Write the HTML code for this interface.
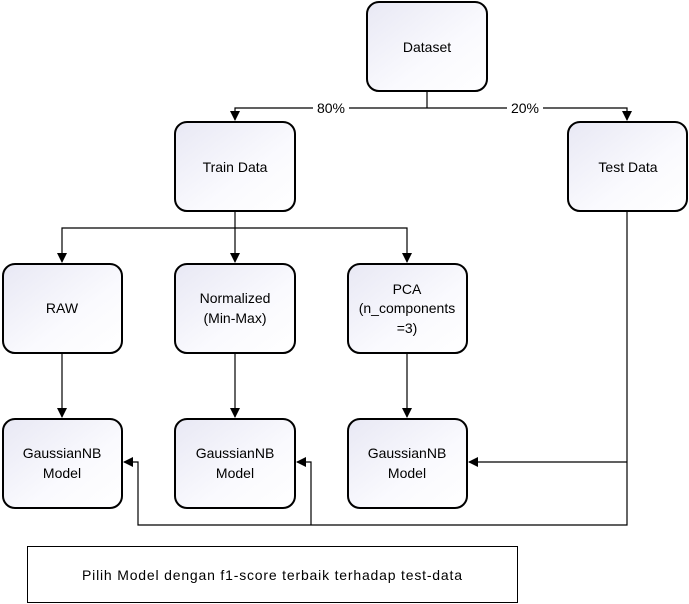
<!DOCTYPE html>
<html><head><style>
html,body{margin:0;padding:0;background:#fff;width:689px;height:604px;overflow:hidden}
text{font-family:"Liberation Sans",sans-serif;font-size:14px;fill:#000}
</style></head><body>
<svg width="689" height="604" viewBox="0 0 689 604" xmlns="http://www.w3.org/2000/svg">
<defs>
<linearGradient id="g" x1="0" y1="0" x2="1" y2="1">
<stop offset="0" stop-color="#e8e8f4"/><stop offset="0.6" stop-color="#fafafe"/><stop offset="1" stop-color="#ffffff"/>
</linearGradient>
<marker id="a" markerWidth="10" markerHeight="10" refX="9" refY="5" orient="auto" markerUnits="userSpaceOnUse">
<path d="M0,0 L10,5 L0,10 z" fill="#000"/></marker>
</defs>
<g fill="url(#g)" stroke="#000" stroke-width="2">
<rect x="367" y="2" width="120" height="89" rx="12"/>
<rect x="175" y="122" width="120" height="89" rx="12"/>
<rect x="568" y="122" width="119" height="89" rx="12"/>
<rect x="3" y="264" width="119" height="89" rx="12"/>
<rect x="175" y="264" width="120" height="89" rx="12"/>
<rect x="348" y="264" width="119" height="89" rx="12"/>
<rect x="3" y="419" width="119" height="89" rx="12"/>
<rect x="175" y="419" width="120" height="89" rx="12"/>
<rect x="348" y="419" width="119" height="89" rx="12"/>
</g>
<rect x="27.5" y="546.5" width="490" height="56" fill="#fff" stroke="#000" stroke-width="1"/>
<g stroke="#000" stroke-width="1.2" fill="none">
<path d="M427,92 V108"/>
<path d="M427,108 H235 V120" marker-end="url(#a)"/>
<path d="M427,108 H627 V120" marker-end="url(#a)"/>
<path d="M235,212 V228"/>
<path d="M235,228 H62 V262" marker-end="url(#a)"/>
<path d="M235,228 V262" marker-end="url(#a)"/>
<path d="M235,228 H407 V262" marker-end="url(#a)"/>
<path d="M62,354 V417" marker-end="url(#a)"/>
<path d="M235,354 V417" marker-end="url(#a)"/>
<path d="M407,354 V417" marker-end="url(#a)"/>
<path d="M627,212 V525 H138 V462 H124" marker-end="url(#a)"/>
<path d="M627,462 H469" marker-end="url(#a)"/>
<path d="M311,525 V462 H297" marker-end="url(#a)"/>
</g>
<rect x="313" y="100" width="36" height="15" fill="#fff"/>
<rect x="507" y="100" width="36" height="15" fill="#fff"/>
<g text-anchor="middle">
<text x="331" y="113">80%</text>
<text x="525" y="113">20%</text>
<text x="427" y="52">Dataset</text>
<text x="235" y="172">Train Data</text>
<text x="628" y="172">Test Data</text>
<text x="62" y="313">RAW</text>
<text x="235" y="303">Normalized</text>
<text x="235" y="323">(Min-Max)</text>
<text x="407" y="294">PCA</text>
<text x="407" y="313">(n_components</text>
<text x="407" y="333">=3)</text>
<text x="62" y="458">GaussianNB</text>
<text x="62" y="478">Model</text>
<text x="235" y="458">GaussianNB</text>
<text x="235" y="478">Model</text>
<text x="407" y="458">GaussianNB</text>
<text x="407" y="478">Model</text>
</g>
<text x="82" y="580" textLength="380" lengthAdjust="spacing">Pilih Model dengan f1-score terbaik terhadap test-data</text>
</svg>
</body></html>
